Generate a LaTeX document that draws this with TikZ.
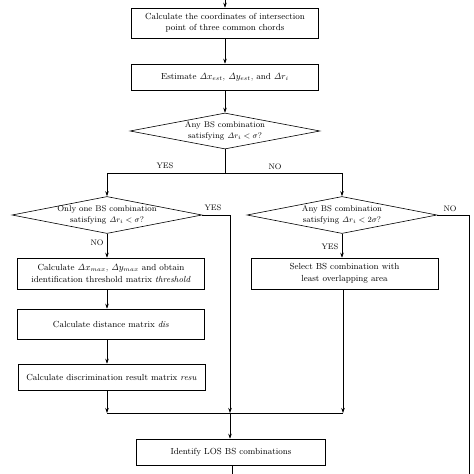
\documentclass[tikz,border=0pt]{standalone}
\usepackage{amsmath,amssymb}
\usepackage{tikz}
\usetikzlibrary{positioning,arrows.meta,shapes.geometric}

\begin{document}
\begin{tikzpicture}[x=1pt,y=-1pt,>={Stealth[length=5pt,width=3.5pt]},line width=0.6pt,
    font=\fontsize{8.8}{11.5}\selectfont]
    \tikzstyle{process}=[rectangle,draw,align=center,minimum width=187pt,inner sep=1pt]
    \tikzstyle{decision}=[diamond,draw,align=center,aspect=5.2,inner sep=-4pt,
        minimum width=190pt,minimum height=37pt,font=\fontsize{8.3}{10.5}\selectfont]
    \tikzstyle{answer}=[inner sep=1pt,font=\fontsize{8}{9}\selectfont]
    \useasboundingbox (0,0) rectangle (474,474);

    \coordinate (start) at (225,0);
    \node[process,minimum height=30pt] (b1) at (225,23)
        {Calculate the coordinates of intersection\\point of three common chords};
    \node[process,minimum height=26pt] (b2) at (225,77)
        {Estimate $\mathit{\Delta} x_{est}$, $\mathit{\Delta} y_{est}$, and $\mathit{\Delta} r_i$};
    \node[decision,minimum height=36pt] (d1) at (225,131)
        {Any BS combination\\satisfying $\mathit{\Delta} r_i<\sigma$?};
    \node[decision] (d2) at (107,215)
        {Only one BS combination\\satisfying $\mathit{\Delta} r_i<\sigma$?};
    \node[decision] (d3) at (342,215)
        {Any BS combination\\satisfying $\mathit{\Delta} r_i<2\sigma$?};
    \node[process,minimum height=31pt] (b3) at (111,273.5)
        {Calculate $\mathit{\Delta} x_{max}$, $\mathit{\Delta} y_{max}$ and obtain\\identification threshold matrix \textit{threshold}};
    \node[process,minimum height=30pt] (b4) at (111,324)
        {Calculate distance matrix \textit{dis}};
    \node[process,minimum height=26pt] (b5) at (111.5,377)
        {Calculate discrimination result matrix \textit{resu}};
    \node[process,minimum height=31pt] (b7) at (344.5,273.5)
        {Select BS combination with\\least overlapping area};
    \node[process,minimum width=189pt,minimum height=26pt] (b6) at (231,452)
        {Identify LOS BS combinations};

    \coordinate (split) at (225,173);
    \coordinate (jl) at (107,413);
    \coordinate (jm) at (230,413);
    \coordinate (jr) at (343,413);
    \coordinate (far) at (469,474);
    \coordinate (end) at (232,474);

    \node[answer] (yes1) at (165,166) {YES};
    \node[answer] (no1) at (275,167) {NO};
    \node[answer] (yes2) at (213,208) {YES};
    \node[answer] (no2) at (97,243) {NO};
    \node[answer] (no3) at (450,209) {NO};
    \node[answer] (yes3) at (330,247) {YES};

    \draw[->] (start) -- (b1);
    \draw[->] (b1) -- (b2);
    \draw[->] (b2) -- (d1);
    \draw (d1) -- (split);
    \draw[->] (split) -| (d2);
    \draw[->] (split) -| (d3);
    \draw[->] (d2.east) -| (jm);
    \draw[->] (d2.south) -- (d2.south |- b3.north);
    \draw[->] (b3.south -| d2.south) -- (d2.south |- b4.north);
    \draw[->] (b4.south -| d2.south) -- (d2.south |- b5.north);
    \draw[->] (b5.south -| jl) -- (jl);
    \draw (d3.east) -| (far);
    \draw[->] (d3.south) -- (d3.south |- b7.north);
    \draw[->] (b7.south -| jr) -- (jr);
    \draw (jl) -- (jr);
    \draw[->] (jm) -- (jm |- b6.north);
    \draw (b6.south -| end) -- (end);
\end{tikzpicture}
\end{document}
